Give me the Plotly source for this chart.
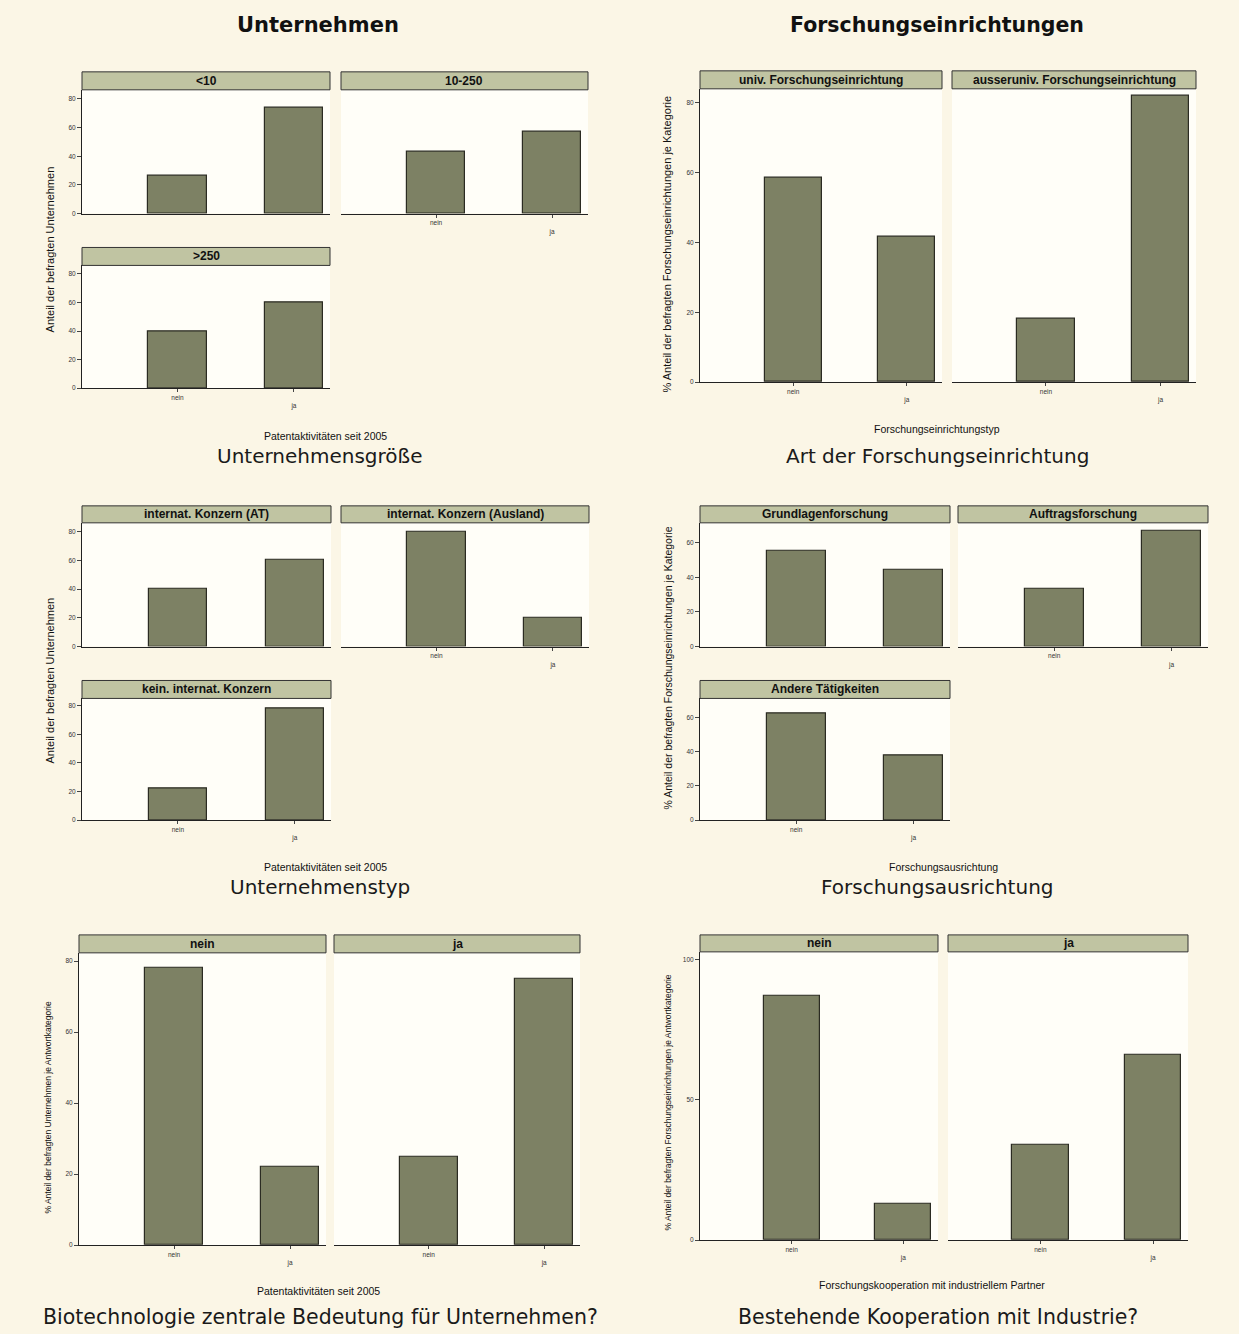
import plotly.graph_objects as go

W, H = 1239, 1334
OFF = 8  # page body margin of the html page
FW, FH = W - OFF, H - OFF

# ---------------- data ----------------
categories = ["nein", "ja"]

groesse_panels = ["<10", "10-250", ">250"]
groesse_values = [[26, 74], [43, 57], [40, 60]]

einrichtung_panels = ["univ. Forschungseinrichtung", "ausseruniv. Forschungseinrichtung"]
einrichtung_values = [[58.5, 41.5], [18, 82]]

typ_panels = ["internat. Konzern (AT)", "internat. Konzern (Ausland)", "kein. internat. Konzern"]
typ_values = [[40, 60], [80, 20], [22, 78]]

ausrichtung_panels = ["Grundlagenforschung", "Auftragsforschung", "Andere Tätigkeiten"]
ausrichtung_values = [[55.5, 44.5], [33.3, 66.7], [62.5, 37.5]]

biotech_panels = ["nein", "ja"]
biotech_values = [[78, 22], [25, 75]]

koop_panels = ["nein", "ja"]
koop_values = [[87, 13], [34, 66]]

# ---------------- styling / layout ----------------
BAR = "#7d8164"
STRIP = "#c0c4a2"
PAPER = "#fbf6e6"
PLOTBG = "#fffef8"

def px(x):
    return (x - OFF) / FW

def py(y):
    return 1 - (y - OFF) / FH

# panel geometry: (x0, x1, strip_top, plot_top, plot_bottom, ymax, tickvals, show_y, show_x)
panels = []
def add(names, values, geoms):
    for n, v, g in zip(names, values, geoms):
        panels.append((n, v) + g)

t80 = [0, 20, 40, 60, 80]
t60 = [0, 20, 40, 60]
add(groesse_panels, groesse_values, [
    (82, 330, 72, 90, 214, 86.4, t80, True, False),
    (341, 588, 72, 90, 214, 86.4, t80, False, True),
    (82, 330, 248, 266, 389, 86.0, t80, True, True),
])
add(einrichtung_panels, einrichtung_values, [
    (700, 942, 71, 89, 383, 84.0, t80, True, True),
    (952, 1196, 71, 89, 383, 84.0, t80, False, True),
])
add(typ_panels, typ_values, [
    (82, 331, 507, 524, 648, 86.0, t80, True, False),
    (341, 589, 507, 524, 648, 86.0, t80, False, True),
    (82, 331, 682, 700, 822, 85.0, t80, True, True),
])
add(ausrichtung_panels, ausrichtung_values, [
    (700, 950, 507, 524, 648, 71.5, t60, True, False),
    (958, 1208, 507, 524, 648, 71.5, t60, False, True),
    (700, 950, 682, 700, 822, 71.0, t60, True, True),
])
add(biotech_panels, biotech_values, [
    (79, 326, 937, 955, 1248, 82.3, t80, True, True),
    (334, 580, 937, 955, 1248, 82.3, t80, False, True),
])
add(koop_panels, koop_values, [
    (700, 938, 937, 954, 1243, 102.8, [0, 50, 100], True, True),
    (948, 1188, 937, 954, 1243, 102.8, [0, 50, 100], False, True),
])

fig = go.Figure()
layout = dict(
    width=FW, height=FH, margin=dict(l=0, r=0, t=0, b=0),
    paper_bgcolor=PAPER, plot_bgcolor=PLOTBG, showlegend=False,
    font=dict(family="Liberation Sans, Arial, sans-serif", color="#111"),
    bargap=0,
)
shapes = []
annotations = []

for i, (name, vals, x0, x1, st, pt, pb, ymax, tv, showy, showx) in enumerate(panels, start=1):
    xa = "x" if i == 1 else f"x{i}"
    ya = "y" if i == 1 else f"y{i}"
    fig.add_trace(go.Bar(
        x=categories, y=vals, xaxis=xa, yaxis=ya, width=0.5,
        marker=dict(color=BAR, line=dict(color="#2b2b22", width=1.2)),
    ))
    kx = "xaxis" if i == 1 else f"xaxis{i}"
    ky = "yaxis" if i == 1 else f"yaxis{i}"
    layout[kx] = dict(
        domain=[px(x0), px(x1)], anchor=ya, type="category",
        range=[-0.82, 1.31], showgrid=False, zeroline=False,
        showline=True, linecolor="#222", linewidth=1,
        ticks="outside" if showx else "", ticklen=3, tickcolor="#444",
        tickvals=categories, ticktext=["nein", "<br>ja"],
        showticklabels=showx, tickfont=dict(size=6.5, color="#333"),
        fixedrange=True,
    )
    layout[ky] = dict(
        domain=[py(pb), py(pt)], anchor=xa, range=[0, ymax],
        showgrid=False, zeroline=False,
        showline=showy, linecolor="#222", linewidth=1,
        ticks="outside" if showy else "", ticklen=4, tickcolor="#444",
        tickvals=tv, showticklabels=showy, tickfont=dict(size=6.5, color="#333"),
        fixedrange=True,
    )
    # strip
    shapes.append(dict(type="rect", xref="paper", yref="paper",
                       x0=px(x0), x1=px(x1), y0=py(pt), y1=py(st),
                       fillcolor=STRIP, line=dict(color="#333", width=1)))
    annotations.append(dict(xref="paper", yref="paper", x=px((x0 + x1) / 2), y=py((st + pt) / 2),
                            text=f"<b>{name}</b>", showarrow=False,
                            font=dict(size=12, color="#111"), xanchor="center", yanchor="middle"))

def text(x, y, s, size, bold=False, angle=0, family=None, color="#111"):
    d = dict(xref="paper", yref="paper", x=px(x), y=py(y), text=f"<b>{s}</b>" if bold else s,
             showarrow=False, textangle=angle, xanchor="center", yanchor="middle",
             font=dict(size=size, color=color))
    if family:
        d["font"]["family"] = family
    annotations.append(d)

# headings
text(318, 25, "Unternehmen", 21, bold=True, family="DejaVu Sans")
text(937, 25, "Forschungseinrichtungen", 20.5, bold=True, family="DejaVu Sans")

# y axis titles
text(50, 250, "Anteil der befragten Unternehmen", 11, angle=-90)
text(667, 245, "% Anteil der befragten Forschungseinrichtungen je Kategorie", 11, angle=-90)
text(50, 682, "Anteil der befragten Unternehmen", 11, angle=-90)
text(668, 670, "% Anteil der befragten Forschungseinrichtungen je Kategorie", 10.5, angle=-90)
text(48, 1110, "% Anteil der befragten Unternehmen je Antwortkategorie", 8.5, angle=-90)
text(668, 1105, "% Anteil der befragten Forschungseinrichtungen je Antwortkategorie", 8.5, angle=-90)

# x axis titles
text(325, 437, "Patentaktivitäten seit 2005", 10.5)
text(937, 430, "Forschungseinrichtungstyp", 10.5)
text(325, 869, "Patentaktivitäten seit 2005", 10.5)
text(943, 869, "Forschungsausrichtung", 10.5)
text(318, 1294, "Patentaktivitäten seit 2005", 10.5)
text(932, 1288, "Forschungskooperation mit industriellem Partner", 10.5)

# subtitles
SUB = "DejaVu Sans"
text(320, 457, "Unternehmensgröße", 20, family=SUB, color="#1a1a1a")
text(937, 457, "Art der Forschungseinrichtung", 20, family=SUB, color="#1a1a1a")
text(320, 889, "Unternehmenstyp", 20, family=SUB, color="#1a1a1a")
text(937, 889, "Forschungsausrichtung", 20, family=SUB, color="#1a1a1a")
text(320, 1320, "Biotechnologie zentrale Bedeutung für Unternehmen?", 20.5, family=SUB, color="#1a1a1a")
text(938, 1320, "Bestehende Kooperation mit Industrie?", 20.5, family=SUB, color="#1a1a1a")

layout["shapes"] = shapes
layout["annotations"] = annotations
fig.update_layout(**layout)
fig.write_html("out.html", post_script=f"document.body.style.background='{PAPER}';")
